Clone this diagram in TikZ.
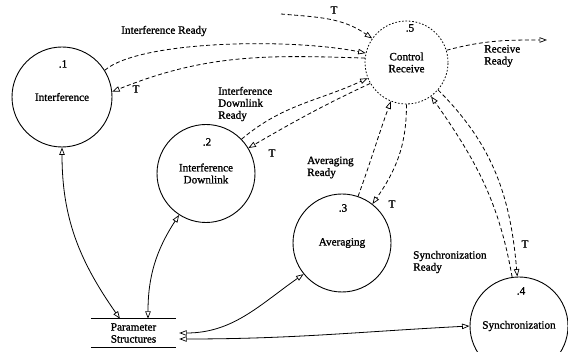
\documentclass[tikz,border=0pt]{standalone}
\usepackage{fontspec}
\setmainfont{Liberation Serif}[FakeBold=1.2]
\usetikzlibrary{arrows.meta,calc}
\begin{document}
\begin{tikzpicture}[x=1pt,y=-1pt,
  every node/.style={font=\fontsize{11.2}{12}\selectfont},
  proc/.style={circle,draw,line width=0.9pt,inner sep=0pt,minimum size=#1,align=center},
  ctrl/.style={circle,draw,line width=0.8pt,dash pattern=on 1.6pt off 1.8pt,inner sep=0pt,minimum size=#1,align=center},
  flow/.style={line width=0.8pt,dash pattern=on 4pt off 2.6pt,-{Triangle[open,length=7.5pt,width=5.5pt,line width=0.7pt]}},
  data/.style={line width=0.8pt,{Triangle[open,length=7.5pt,width=5.5pt,line width=0.7pt]}-{Triangle[open,length=7.5pt,width=5.5pt,line width=0.7pt]}},
  lbl/.style={inner sep=0pt,align=left,anchor=west},
  tl/.style={inner sep=0pt}
]
\useasboundingbox (0,0) rectangle (568,352);

% processes
\node[proc=100pt] (p1) at (62,97) {Interference};
\node[tl] (n1) at (63,64) {.1};
\node[proc=98pt] (p2) at (206,173.5) {Interference\\Downlink};
\node[tl] (n2) at (207,142) {.2};
\node[ctrl=83pt] (p5) at (406.5,62.5) {Control\\Receive};
\node[tl] (n5) at (410,28) {.5};
\node[proc=98pt] (p3) at (342,243) {Averaging};
\node[tl] (n3) at (343,208) {.3};
\node[proc=98pt] (p4) at (519,326) {Synchronization};
\node[tl] (n4) at (521,291) {.4};

% data store
\node[minimum width=85pt,minimum height=28pt,inner sep=0pt,align=center] (ps) at (133.5,333) {Parameter\\Structures};
\draw[line width=0.9pt] (ps.north west) -- (ps.north east);
\draw[line width=0.9pt] (ps.south west) -- (ps.south east);
\coordinate (ps1) at ($(ps.north)+(-13.5,0)$);
\coordinate (ps2) at ($(ps.north)+(14.5,0)$);
\coordinate (ps3) at ($(ps.east)+(3,0)$);
\coordinate (ps4) at ($(ps.east)+(3,6)$);

% solid data flows
\draw[data] (p1.270) to[out=-90,in=125] (ps1);
\draw[data] (ps2) to[out=90,in=237] (p2.237);
\draw[data] (ps3) to[out=0,in=215] (p3.219);
\draw[data] (ps4) to[out=0,in=183] (p4.180);

% control flows
\coordinate (ext) at (281,14);
\coordinate (rr) at (547,40);
\draw[flow] (ext) to[out=-5,in=145] (p5.145);
\node[tl] (t0) at (334,10) {T};
\draw[flow] (p1.32) .. controls +(35,-30) and +(-75,-15) .. (p5.167);
\node[tl] (l1) at (164,31) {Interference Ready};
\draw[flow] (p5.174) to[out=178,in=22] (p1.6);
\node[tl] (t1) at (136,89) {T};
\draw[flow] (p2.44) to[out=40,in=205] (p5.202);
\node[lbl] (l2) at (218,104) {Interference\\Downlink\\Ready};
\draw[flow] (p5.210) to[out=205,in=30] (p2.31);
\node[tl] (t2) at (272,153) {T};
\draw[flow] (p3.71) to[out=70,in=250] (p5.248);
\node[lbl] (l3) at (307,167.5) {Averaging\\Ready};
\draw[flow] (p5.270) to[out=-90,in=55] (p3.52);
\node[tl] (t3) at (392,204) {T};
\draw[flow] (p4.98) to[out=100,in=-55] (p5.306);
\node[lbl] (l4) at (413,262) {Synchronization\\Ready};
\draw[flow] (p5.319) to[out=-45,in=95] (p4.92);
\node[tl] (t4) at (525,244) {T};
\draw[flow] (p5.17) to[out=15,in=180] (rr);
\node[lbl] (l5) at (484,56) {Receive\\Ready};
\end{tikzpicture}
\end{document}
